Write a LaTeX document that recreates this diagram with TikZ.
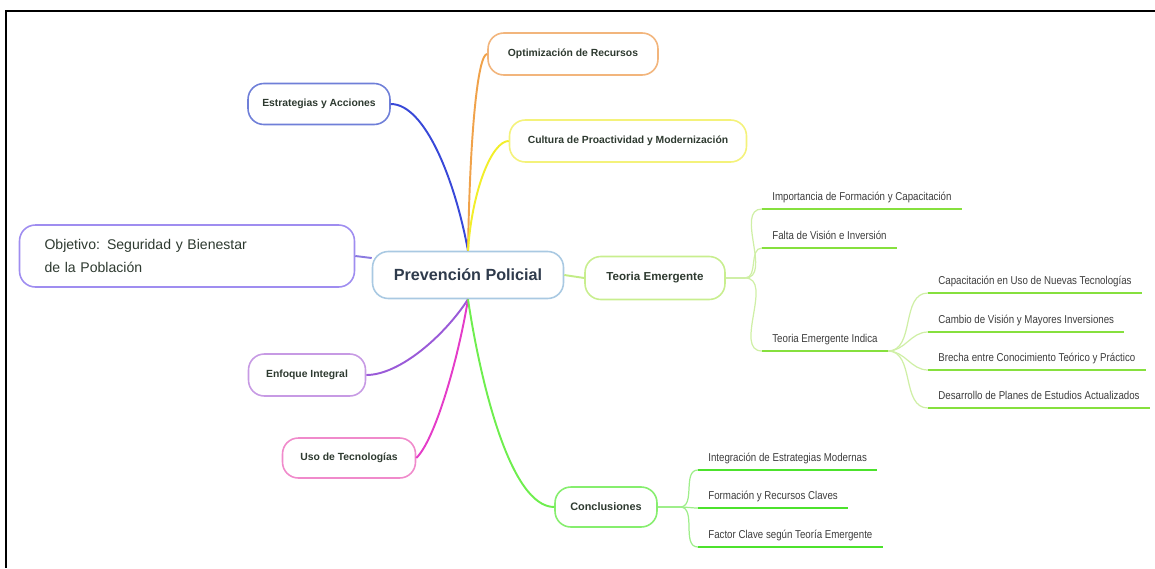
\documentclass[tikz,border=0pt]{standalone}
\usepackage{fontspec}
\setmainfont{Liberation Sans}
\newfontfamily\leaffont[FakeStretch=0.85]{Liberation Sans}
\usetikzlibrary{calc}

\definecolor{ppblue}{HTML}{A9C9E2}
\definecolor{pptext}{HTML}{2F3B4C}
\definecolor{boxtext}{HTML}{2E3A30}
\definecolor{leaftext}{HTML}{3C3C3C}
\definecolor{objpurple}{HTML}{9F8DF0}
\definecolor{objline}{HTML}{8A7AE0}
\definecolor{estblue}{HTML}{6F7FD8}
\definecolor{estline}{HTML}{3848D8}
\definecolor{optorange}{HTML}{F2B57C}
\definecolor{optline}{HTML}{F0A24A}
\definecolor{culyellow}{HTML}{F4F27A}
\definecolor{culline}{HTML}{F2EE2A}
\definecolor{teogreen}{HTML}{C8EE8E}
\definecolor{teoline}{HTML}{C2EC86}
\definecolor{teotwig}{HTML}{CFEFA6}
\definecolor{teoleaf}{HTML}{86E03E}
\definecolor{enfpurple}{HTML}{C79AE4}
\definecolor{enfline}{HTML}{9A5AD8}
\definecolor{usopink}{HTML}{F08ACB}
\definecolor{usoline}{HTML}{E43CC8}
\definecolor{congreen}{HTML}{86EE6E}
\definecolor{conline}{HTML}{6EEE4E}
\definecolor{contwig}{HTML}{9EEE8A}
\definecolor{conleaf}{HTML}{4CE22C}

\begin{document}
\begin{tikzpicture}[x=0.02cm, y=-0.02cm,
    box/.style={draw, rounded corners=9pt, line width=0.9pt, fill=white, inner sep=0pt,
        text=boxtext, font=\bfseries\fontsize{5.9}{7}\selectfont},
    leaf/.style={anchor=south west, inner xsep=0.2cm, inner ysep=3pt, text height=5pt,
        text depth=1.5pt, text=leaftext, font=\leaffont\fontsize{6.5}{8}\selectfont},
    branch/.style={line width=1.1pt},
    twig/.style={line width=0.7pt},
    uline/.style={line width=1.6pt}]
    \useasboundingbox (0,0) rectangle (1155,568);

    % Frame
    \draw[line width=1.2pt] (5,11) -- (1155,11);
    \draw[line width=1.2pt] (6,11) -- (6,568);

    % Central topic and main branches
    \node[box, draw=ppblue, minimum width=3.82cm, minimum height=0.94cm, text=pptext,
        font=\bfseries\fontsize{9.2}{11}\selectfont] (pp) at (468,275) {Prevención Policial};
    \node[box, draw=objpurple, minimum height=1.24cm, text width=5.7cm, inner xsep=0.5cm,
        align=left, font=\fontsize{8}{13}\selectfont] (obj) at (187,256) {Objetivo: Seguridad y Bienestar\\de la Población};
    \node[box, draw=estblue, minimum width=2.84cm, minimum height=0.82cm] (est) at (319,104) {Estrategias y Acciones};
    \node[box, draw=optorange, minimum width=3.4cm, minimum height=0.84cm] (opt) at (573,54) {Optimización de Recursos};
    \node[box, draw=culyellow, minimum width=4.74cm, minimum height=0.84cm] (cul) at (628,141) {Cultura de Proactividad y Modernización};
    \node[box, draw=teogreen, minimum width=2.8cm, minimum height=0.86cm,
        font=\bfseries\fontsize{6.6}{8}\selectfont] (teo) at (655,278) {Teoria Emergente};
    \node[box, draw=enfpurple, minimum width=2.34cm, minimum height=0.84cm] (enf) at (307,375) {Enfoque Integral};
    \node[box, draw=usopink, minimum width=2.66cm, minimum height=0.8cm] (uso) at (349,458) {Uso de Tecnologías};
    \node[box, draw=congreen, minimum width=2.04cm, minimum height=0.8cm,
        font=\bfseries\fontsize{6.2}{7}\selectfont] (con) at (606,507) {Conclusiones};

    \draw[branch, estline] (est.east) .. controls (425,104) and (455,180) .. (pp.north);
    \draw[branch, optline] (opt.west) .. controls (478,54) and (470,130) .. (pp.north);
    \draw[branch, culline] (cul.west) .. controls (492,141) and (472,190) .. (pp.north);
    \draw[branch, objline] (obj.east) -- (pp.170);
    \draw[branch, enfline] (enf.east) .. controls (400,375) and (445,335) .. (pp.south);
    \draw[branch, usoline] (uso.east) .. controls (435,440) and (458,360) .. (pp.south);
    \draw[branch, conline] (pp.south) .. controls (480,380) and (510,507) .. (con.west);
    \draw[branch, teoline] (pp.east) -- (teo.west);

    % Teoria Emergente leaves
    \node[leaf] (imp) at (762,209) {Importancia de Formación y Capacitación};
    \node[leaf] (fal) at (762,248) {Falta de Visión e Inversión};
    \node[leaf] (ind) at (762,351) {Teoria Emergente Indica};
    \node[leaf] (cap) at (928,293) {Capacitación en Uso de Nuevas Tecnologías};
    \node[leaf] (cam) at (928,332) {Cambio de Visión y Mayores Inversiones};
    \node[leaf] (bre) at (928,370) {Brecha entre Conocimiento Teórico y Práctico};
    \node[leaf] (des) at (928,408) {Desarrollo de Planes de Estudios Actualizados};
    \coordinate (tj) at (745,278);

    \draw[twig, teotwig] (teo.east) -- (tj);
    \foreach \n in {imp,fal,ind}
        \draw[twig, teotwig] (tj) to[out=0, in=180] (\n.south west);
    \foreach \n in {cap,cam,bre,des}
        \draw[twig, teotwig] (ind.south east) to[out=0, in=180] (\n.south west);
    \foreach \n in {imp,fal,ind,cap,cam,bre,des}
        \draw[uline, teoleaf] (\n.south west) -- (\n.south east);

    % Conclusiones leaves
    \node[leaf] (int) at (698,470) {Integración de Estrategias Modernas};
    \node[leaf] (frm) at (698,508) {Formación y Recursos Claves};
    \node[leaf] (fac) at (698,547) {Factor Clave según Teoría Emergente};
    \coordinate (cj) at (680,507);

    \draw[twig, contwig] (con.east) -- (cj);
    \foreach \n in {int,frm,fac}
        \draw[twig, contwig] (cj) to[out=0, in=180] (\n.south west);
    \foreach \n in {int,frm,fac}
        \draw[uline, conleaf] (\n.south west) -- (\n.south east);
\end{tikzpicture}
\end{document}
